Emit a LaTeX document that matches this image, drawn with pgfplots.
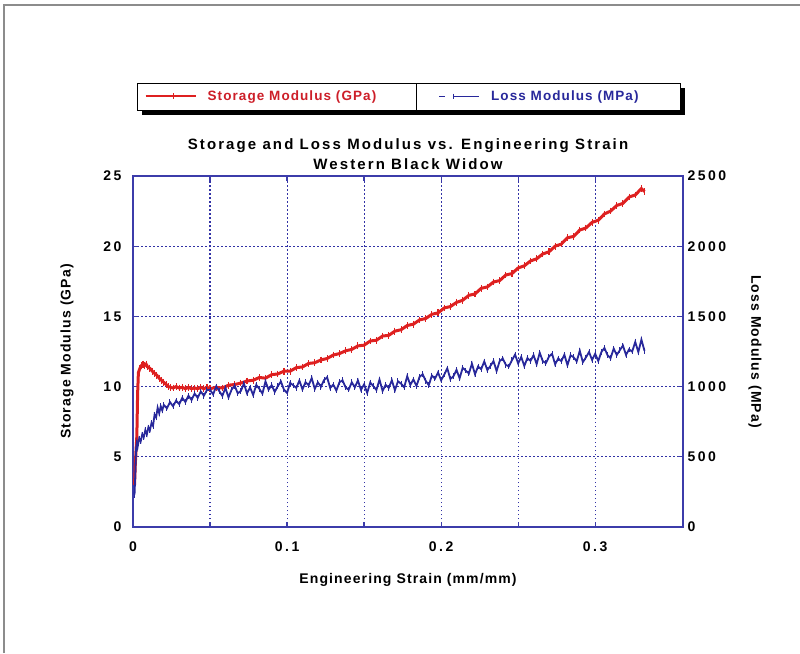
\documentclass[border=0pt]{standalone}
\usepackage{fontspec}
\setmainfont{Liberation Sans}[LetterSpace=8]
\newfontfamily\titlefont{Liberation Sans}[LetterSpace=14]
\newfontfamily\tickfont{Liberation Sans}[LetterSpace=18]
\usepackage{pgfplots}
\usepackage{pgfplotstable}
\pgfplotsset{compat=1.18}
\definecolor{sred}{RGB}{222,32,32}
\definecolor{lred}{RGB}{205,30,40}
\definecolor{lblue}{RGB}{40,40,155}
\definecolor{fblue}{RGB}{60,60,170}
\definecolor{gblue}{RGB}{50,50,165}

\pgfplotsset{
  redleg/.code={\pgfplotsset{legend image code/.code={\draw[##1, mark repeat=2, mark phase=2] plot coordinates {(0pt,0pt) (28pt,0pt) (50pt,0pt)};}}},
  blueleg/.code={\pgfplotsset{legend image code/.code={\draw[##1, mark=none] (0pt,0pt) -- (6pt,0pt); \draw[##1, mark repeat=2, mark phase=1] plot coordinates {(14pt,0pt) (40pt,0pt)};}}},
}

\pgfplotstableread{
x y
0.0010 3.0
0.0015 4.5
0.0020 5.5
0.0025 6.5
0.0030 9.5
0.0035 11.0
0.0045 11.3
0.0055 11.5
0.0065 11.6
0.0075 11.5
0.0085 11.6
0.0095 11.4
0.0110 11.3
0.0125 11.1
0.0140 10.95
0.0155 10.8
0.0170 10.6
0.0185 10.45
0.0200 10.3
0.0215 10.15
0.0230 10.0
0.0245 9.95
0.0260 9.9
0.0280 10.0
0.0300 9.9
0.0320 9.95
0.0340 9.85
0.0360 9.95
0.0380 9.85
0.0400 9.9
0.0420 9.85
0.0440 9.95
0.0460 9.85
0.0480 9.95
0.050 9.85
0.054 9.95
0.058 9.9
0.062 10.1
0.066 10.15
0.070 10.25
0.074 10.4
0.078 10.45
0.082 10.65
0.086 10.6
0.090 10.85
0.094 10.9
0.098 11.1
0.102 11.1
0.106 11.35
0.110 11.4
0.114 11.65
0.118 11.7
0.122 11.9
0.126 12.0
0.130 12.25
0.134 12.35
0.138 12.55
0.142 12.65
0.146 12.9
0.150 12.95
0.154 13.25
0.158 13.3
0.162 13.6
0.166 13.65
0.170 13.95
0.174 14.05
0.178 14.35
0.182 14.45
0.186 14.75
0.190 14.85
0.194 15.15
0.198 15.25
0.202 15.6
0.206 15.7
0.210 16.0
0.214 16.15
0.218 16.5
0.222 16.6
0.226 17.0
0.230 17.1
0.234 17.45
0.238 17.55
0.242 17.95
0.246 18.05
0.250 18.45
0.254 18.6
0.258 18.95
0.262 19.1
0.266 19.45
0.270 19.6
0.274 20.0
0.278 20.15
0.282 20.6
0.286 20.7
0.290 21.15
0.294 21.3
0.298 21.7
0.302 21.85
0.306 22.3
0.310 22.5
0.314 22.9
0.318 23.05
0.322 23.5
0.326 23.65
0.330 24.1
0.332 23.9
}\storage

\pgfplotstableread{
x y
0.0010 230
0.0015 380
0.0020 560
0.0025 600
0.0030 570
0.0040 630
0.0050 610
0.0060 660
0.0070 640
0.0080 690
0.0090 660
0.0100 710
0.0110 690
0.0120 740
0.0130 720
0.0140 800
0.0150 780
0.0160 850
0.0170 810
0.0180 860
0.0190 830
0.0200 870
0.0220 845
0.0240 890
0.0260 860
0.0280 900
0.0300 875
0.0320 920
0.0340 890
0.0360 935
0.0380 905
0.0400 950
0.0420 920
0.0440 965
0.0460 935
0.0480 975
0.050 978
0.052 945
0.054 1001
0.056 968
0.058 934
0.060 991
0.062 923
0.064 979
0.066 1006
0.068 952
0.070 969
0.072 1021
0.074 952
0.076 994
0.078 940
0.080 1012
0.082 984
0.084 950
0.086 1037
0.088 978
0.090 1010
0.092 962
0.094 1004
0.096 1036
0.098 978
0.100 955
0.102 1027
0.104 1009
0.106 991
0.108 1043
0.110 980
0.112 1032
0.114 1009
0.116 1061
0.118 983
0.120 1030
0.122 999
0.124 1047
0.126 1066
0.128 990
0.130 1014
0.132 972
0.134 1031
0.136 1045
0.138 994
0.140 978
0.142 1031
0.144 995
0.146 1044
0.148 977
0.150 1016
0.152 955
0.154 1029
0.156 1003
0.158 976
0.160 1050
0.162 969
0.164 1012
0.166 991
0.168 1045
0.170 974
0.172 1038
0.174 1021
0.176 995
0.178 1074
0.180 1012
0.182 1051
0.184 1005
0.186 1069
0.188 1088
0.190 1041
0.192 1010
0.194 1079
0.196 1057
0.198 1101
0.200 1045
0.202 1085
0.204 1130
0.206 1054
0.208 1074
0.210 1119
0.212 1059
0.214 1134
0.216 1114
0.218 1093
0.220 1163
0.222 1088
0.224 1143
0.226 1124
0.228 1179
0.230 1118
0.232 1147
0.234 1182
0.236 1111
0.238 1181
0.240 1200
0.242 1155
0.244 1144
0.246 1188
0.248 1228
0.250 1165
0.252 1211
0.254 1147
0.256 1203
0.258 1183
0.260 1224
0.262 1160
0.264 1241
0.266 1181
0.268 1167
0.270 1213
0.272 1234
0.274 1159
0.276 1200
0.278 1181
0.280 1227
0.282 1153
0.284 1223
0.286 1209
0.288 1180
0.290 1255
0.292 1174
0.294 1208
0.296 1246
0.298 1190
0.300 1234
0.302 1182
0.304 1246
0.306 1275
0.308 1224
0.310 1203
0.312 1271
0.314 1225
0.316 1259
0.318 1292
0.320 1226
0.322 1265
0.324 1249
0.326 1318
0.328 1246
0.330 1335
0.332 1255
}\loss

\begin{document}
\begin{tikzpicture}[font=\bfseries]
\path[use as bounding box] (-133pt,-126pt) rectangle (667pt,527pt);
\draw[black!45, line width=1.2pt] (-129pt,-126pt) -- (-129pt,522pt) -- (667pt,522pt);
% legend frame with shadow
\fill[black] (9pt,412pt) rectangle (552pt,439pt);
\filldraw[fill=white, draw=black, line width=0.8pt] (4pt,417pt) rectangle (547pt,444pt);
\draw[black, line width=0.8pt] (283pt,417pt) -- (283pt,444pt);

\pgfplotsset{
  common/.style={
    width=550pt, height=351pt, scale only axis,
    at={(0pt,0pt)}, anchor=south west,
    xmin=0, xmax=0.357,
    axis line style={fblue, line width=1.5pt},
    tick style={fblue, line width=1.2pt},
    tick align=inside,
    major tick length=5pt, minor tick length=5pt,
    /pgf/number format/assume math mode=true,
    tick label style={font=\tickfont\bfseries\fontsize{14}{15}\selectfont, black},
  },
}
\begin{axis}[common,
  ymin=0, ymax=25, ytick={0,5,10,15,20,25},
  yticklabels={0,5,10,15,20,25},
  ytick pos=left,
  xtick={0,0.1,0.2,0.3}, minor xtick={0.05,0.15,0.25},
  xticklabels={0,0.1,0.2,0.3},
  grid=both,
  major grid style={gblue, dash pattern=on 1.5pt off 2.5pt, line width=1.1pt},
  minor grid style={gblue, dash pattern=on 1.5pt off 2.5pt, line width=1.1pt},
  xticklabel style={yshift=-11pt},
  yticklabel style={xshift=-8pt},
  xlabel={Engineering Strain (mm/mm)},
  ylabel={Storage Modulus (GPa)},
  every axis x label/.style={at={(axis description cs:0.5,-0.15)}, anchor=center, font=\bfseries\fontsize{14}{16}\selectfont},
  every axis y label/.style={at={(axis description cs:-0.12,0.5)}, rotate=90, anchor=center, font=\bfseries\fontsize{14}{16}\selectfont},
  title={Storage and Loss Modulus vs. Engineering Strain\\Western Black Widow},
  every axis title/.style={at={(axis description cs:0.5,1.062)}, anchor=center, align=center, font=\titlefont\bfseries\fontsize{15}{19.5}\selectfont},
]
\addplot[sred, line width=3pt, mark=|, mark size=3.4pt, mark options={line width=1.1pt}] table {\storage};
\end{axis}
\begin{axis}[common,
  ymin=0, ymax=2500, ytick={0,500,1000,1500,2000,2500},
  yticklabels={0,500,1000,1500,2000,2500},
  axis y line*=right, axis x line=none,
  yticklabel style={xshift=1pt},
  ylabel={Loss Modulus (MPa)},
  every axis y label/.style={at={(axis description cs:1.131,0.5)}, rotate=-90, anchor=center, font=\bfseries\fontsize{14}{16}\selectfont},
  legend columns=2,
  legend style={draw=none, fill=none, at={(axis description cs:0.472,1.2265)}, anchor=center,
    font=\bfseries\fontsize{13.5}{14}\selectfont,
    /tikz/column 1/.style={column sep=9pt},
    /tikz/column 2/.style={column sep=60pt},
    /tikz/column 3/.style={column sep=9pt}},
]
\addlegendimage{sred, line width=2pt, mark=|, mark size=3pt, mark options={line width=1pt}, redleg}
\addlegendentry{\textcolor{lred}{Storage Modulus (GPa)}}
\addplot[lblue, line width=1.8pt, mark=|, mark size=2.8pt, mark options={line width=1pt}, blueleg] table {\loss};
\addlegendentry{\textcolor{lblue}{Loss Modulus (MPa)}}
\end{axis}
\end{tikzpicture}
\end{document}
